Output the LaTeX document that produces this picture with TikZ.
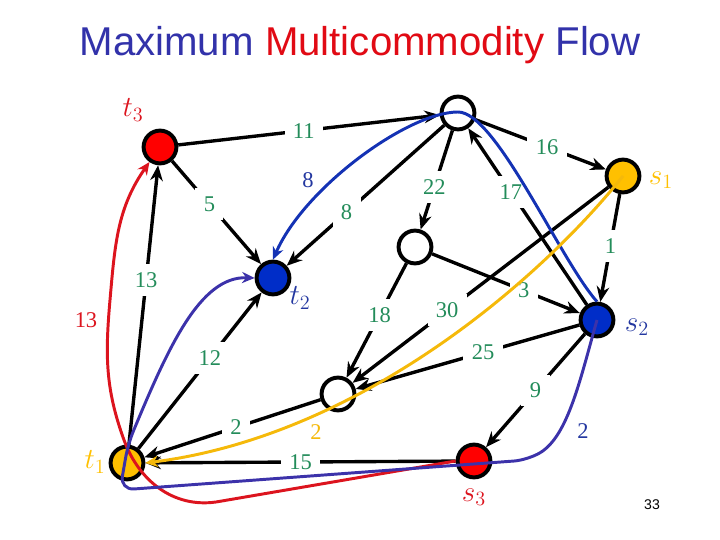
\documentclass[tikz,border=0pt]{standalone}
\usepackage{tikz}
\usetikzlibrary{arrows.meta,positioning}
\usepackage{xcolor}
\usepackage{amsmath}
\usepackage{fontspec}
\setmainfont{Liberation Serif}
\newfontfamily\titlefont{Liberation Sans}
\definecolor{TitleBlue}{RGB}{50,50,170}
\definecolor{TitleRed}{RGB}{225,10,20}
\definecolor{NumGreen}{RGB}{35,140,90}
\definecolor{NodeRed}{RGB}{255,0,0}
\definecolor{NodeGold}{RGB}{255,192,0}
\definecolor{NodeBlue}{RGB}{0,45,200}
\definecolor{FlowRed}{RGB}{220,20,30}
\definecolor{FlowBlue}{RGB}{20,50,180}
\definecolor{FlowPurple}{RGB}{60,50,170}
\definecolor{FlowGold}{RGB}{245,185,10}
\definecolor{LblBlue}{RGB}{35,55,160}

\begin{document}
\begin{tikzpicture}[
  vtx/.style={circle,draw=black,line width=2.8pt,minimum size=0.82cm,inner sep=0pt},
  arr/.style={-{Stealth[length=11pt,width=9pt]},line width=2.4pt},
  num/.style={fill=white,inner sep=6pt,text=NumGreen,font=\fontsize{16}{18}\selectfont},
  vname/.style={font=\fontsize{20}{24}\selectfont},
  flow/.style={-{Stealth[length=9pt,width=8pt]},line width=2.1pt},
]
\useasboundingbox (0,0) rectangle (18,13.5);
\node[anchor=base,font=\titlefont\fontsize{28.6}{32}\selectfont] (title) at (9.0,12.12)
  {\textcolor{TitleBlue}{Maximum} \textcolor{TitleRed}{Multicommodity} \textcolor{TitleBlue}{Flow}};
\node[vtx,fill=NodeRed] (t3) at (4.0,9.825) {};
\node[vtx,fill=white] (u) at (11.45,10.675) {};
\node[vtx,fill=NodeGold] (s1) at (15.575,9.1) {};
\node[vtx,fill=NodeBlue] (t2) at (6.825,6.55) {};
\node[vtx,fill=white] (v) at (10.375,7.325) {};
\node[vtx,fill=NodeBlue] (s2) at (14.925,5.5) {};
\node[vtx,fill=white] (w) at (8.45,3.65) {};
\node[vtx,fill=NodeGold] (t1) at (3.175,1.925) {};
\node[vtx,fill=NodeRed] (s3) at (11.85,1.975) {};
\node[vname,text=FlowRed] (t3name) at (3.325,10.75) {$t_3$};
\node[vname,text=NodeGold] (s1name) at (16.525,9.0) {$s_1$};
\node[vname,text=LblBlue] (t2name) at (7.5,6.05) {$t_2$};
\node[vname,text=LblBlue] (s2name) at (15.925,5.325) {$s_2$};
\node[vname,text=NodeGold] (t1name) at (2.375,1.95) {$t_1$};
\node[vname,text=FlowRed] (s3name) at (11.85,1.075) {$s_3$};
\draw[arr] (t3) -- node[num,pos=0.48]{11} (u);
\draw[arr] (u) -- node[num,pos=0.55]{16} (s1);
\draw[arr] (t3) -- node[num,pos=0.42]{5} (t2);
\draw[arr] (u) -- node[num,pos=0.62]{8} (t2);
\draw[arr] (u) -- node[num,pos=0.57]{22} (v);
\draw[arr] (s2) -- node[num,pos=0.64]{17} (u);
\draw[arr] (s1) -- node[num,pos=0.48]{1} (s2);
\draw[arr] (s1) -- node[num,pos=0.63]{30} (w);
\draw[arr] (v) -- node[num,pos=0.62]{3} (s2);
\draw[arr] (v) -- node[num,pos=0.45]{18} (w);
\draw[arr] (s2) -- node[num,pos=0.43]{25} (w);
\draw[arr] (s2) -- node[num,pos=0.5]{9} (s3);
\draw[arr] (w) -- node[num,pos=0.48]{2} (t1);
\draw[arr] (s3) -- node[num,pos=0.5]{15} (t1);
\draw[arr] (t1) -- node[num,pos=0.58]{12} (t2);
\draw[arr] (t1) -- node[num,pos=0.59]{13} (t3);
\draw[flow,FlowRed] (s3.west) -- (5.4,0.95) to[out=188,in=-70] (3.1,2.5)
  to[out=110,in=-95] (2.75,6.0) to[out=85,in=235] (t3);
\draw[flow,FlowBlue] (s2.north) .. controls (14.0,7.0) and (12.4,10.7) .. (11.45,10.7)
  .. controls (10.2,10.7) and (7.6,8.8) .. (t2.north);
\draw[flow,FlowPurple,rounded corners=10pt] (s2.center) .. controls (14.5,4.0) and (14.2,2.6) .. (13.2,2.0)
  -- (3.0,1.25) -- (3.2,2.4) .. controls (4.2,4.8) and (5.0,6.6) .. (t2.west);
\draw[flow,FlowGold] (s1.center) .. controls (13.5,6.5) and (9.0,2.6) .. (t1.east);
\node[text=FlowRed,font=\fontsize{16}{18}\selectfont] (redamt) at (2.15,5.5) {13};
\node[text=LblBlue,font=\fontsize{16}{18}\selectfont] (blueamt) at (7.7,9.0) {8};
\node[text=FlowGold,font=\fontsize{16}{18}\selectfont] (goldamt) at (7.9,2.7) {2};
\node[text=LblBlue,font=\fontsize{16}{18}\selectfont] (purpleamt) at (14.575,2.725) {2};
\node[font=\titlefont\fontsize{10}{12}\selectfont] (page) at (16.3,0.875) {33};
\end{tikzpicture}
\end{document}
